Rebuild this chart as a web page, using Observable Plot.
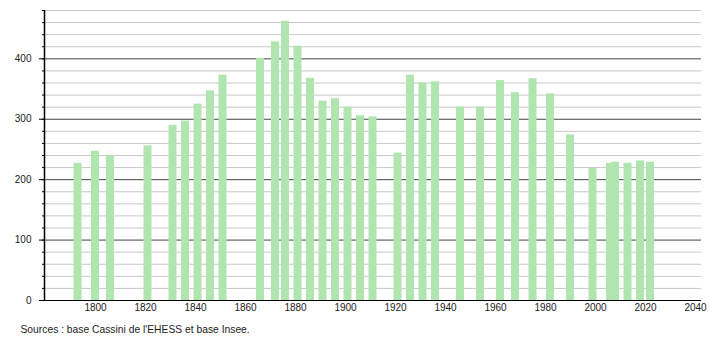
<!DOCTYPE html>
<html>
<head>
<meta charset="utf-8">
<script src="https://cdn.jsdelivr.net/npm/d3@7"></script>
<script src="https://cdn.jsdelivr.net/npm/@observablehq/plot@0.6"></script>
<style>
  body { margin: 0; background: #fff; }
</style>
</head>
<body>
<div id="chart"></div>
<script>
const years = [1793, 1800, 1806, 1821, 1831, 1836, 1841, 1846, 1851, 1866, 1872, 1876, 1881, 1886, 1891, 1896, 1901, 1906, 1911, 1921, 1926, 1931, 1936, 1946, 1954, 1962, 1968, 1975, 1982, 1990, 1999, 2006, 2008, 2013, 2018, 2022];
const population = [227, 247, 240, 256, 290, 297, 325, 347, 373, 401, 428, 462, 421, 368, 330, 334, 320, 306, 304, 244, 373, 360, 362, 320, 320, 364, 344, 367, 342, 274, 219, 227, 229, 227, 231, 229];
const yLabelTicks = [0, 100, 200, 300, 400];
const yMinorTicks = d3.range(0, 481, 20);
const xLabelTicks = [1800, 1820, 1840, 1860, 1880, 1900, 1920, 1940, 1960, 1980, 2000, 2020, 2040];
const caption = "Sources : base Cassini de l'EHESS et base Insee.";

const data = years.map((y, i) => ({year: y, pop: population[i]}));
const halfW = 1.6;
const xDomain = [1779.6, 2042.4];

const chart = Plot.plot({
  width: 710,
  height: 340,
  marginLeft: 44,
  marginRight: 9,
  marginTop: 10,
  marginBottom: 40,
  style: {fontFamily: "'Liberation Sans', Arial, sans-serif", fontSize: "10px", color: "#222", background: "#fff"},
  x: {domain: xDomain, label: null},
  y: {domain: [0, 480], label: null},
  marks: [
    Plot.ruleY(yMinorTicks.filter(v => v % 100 !== 0), {stroke: "#c8c8c8", strokeWidth: 1}),
    Plot.ruleY(yLabelTicks.filter(v => v > 0), {stroke: "#444", strokeWidth: 1}),
    Plot.rectY(data, {x1: d => d.year - halfW, x2: d => d.year + halfW, y: "pop", fill: "#b0e5b0"}),
    Plot.ruleY([0], {stroke: "#000", strokeWidth: 1.2}),
    Plot.ruleX([xDomain[0]], {y1: 0, y2: 480, stroke: "#000", strokeWidth: 1.5}),
    Plot.axisY({ticks: yMinorTicks, tickSize: 2, text: null, stroke: "#000"}),
    Plot.axisY({ticks: yLabelTicks, tickSize: 5, tickPadding: 8, stroke: "#000", fill: "#222", fontSize: 10}),
    Plot.axisX({ticks: xLabelTicks, tickSize: 0, tickPadding: 3, tickFormat: d => String(d), fill: "#222", fontSize: 10}),
    Plot.text([caption], {frameAnchor: "bottom-left", dx: -24, dy: 29, textAnchor: "start", lineAnchor: "middle", fill: "#222", fontSize: 10.3})
  ]
});
document.getElementById("chart").appendChild(chart);
</script>
</body>
</html>
